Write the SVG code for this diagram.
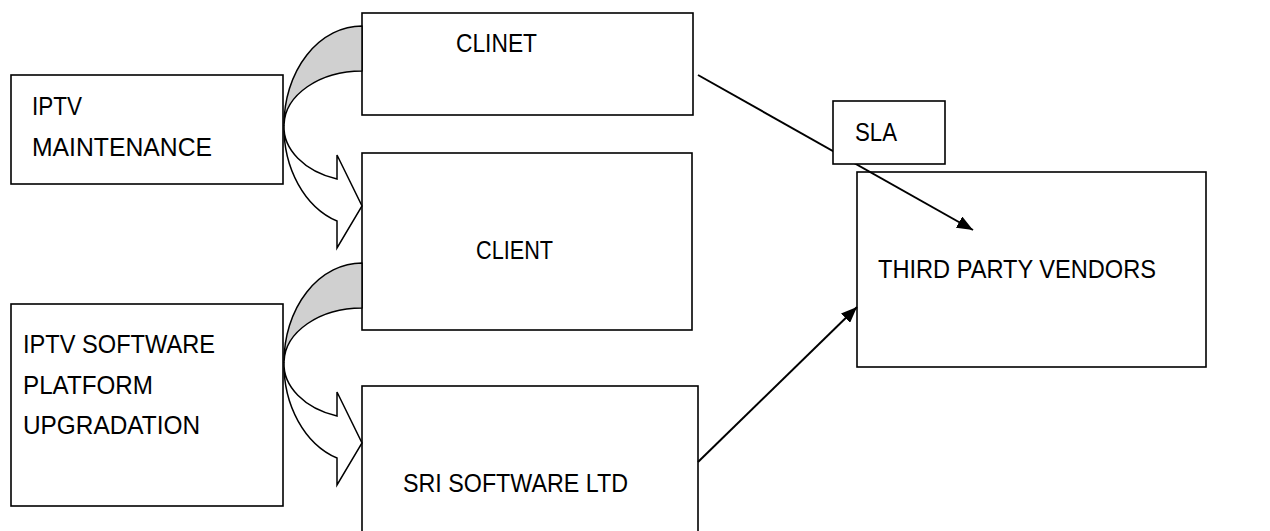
<svg xmlns="http://www.w3.org/2000/svg" width="1270" height="531" viewBox="0 0 1270 531">
<style>
.box{fill:#fff;stroke:#000;stroke-width:1.6}
.t{font-family:"Liberation Sans",Arial,sans-serif;font-size:25px;fill:#000}
.band{fill:#d0d0d0;stroke:#000;stroke-width:1.5;stroke-linejoin:round}
.head{fill:#fff;stroke:#000;stroke-width:1.5;stroke-linejoin:miter}
.conn{stroke:#000;stroke-width:2;fill:none}
</style>
<defs>
<marker id="ah" markerUnits="userSpaceOnUse" markerWidth="17" markerHeight="13" refX="16" refY="6.5" orient="auto">
<path d="M0,0 L16,6.5 L0,13 z" fill="#000"/>
</marker>
<g id="curved">
<path class="band" d="M362,26 A78,99 0 0 0 284,125 A78,55 0 0 1 362,71 Z"/>
<path class="head" d="M284,125 A78,99 0 0 0 337,221 L337,248 L362,206 L337,155 L337,179 A78,55 0 0 1 284,125 Z"/>
</g>
</defs>
<g id="node-iptv-maintenance">
<rect class="box" x="11" y="75" width="272" height="109"/>
<text class="t" x="32" y="115" textLength="50" lengthAdjust="spacingAndGlyphs">IPTV</text>
<text class="t" x="32" y="156" textLength="180" lengthAdjust="spacingAndGlyphs">MAINTENANCE</text>
</g>
<g id="node-iptv-software">
<rect class="box" x="11" y="304" width="272" height="202"/>
<text class="t" x="23" y="353" textLength="192" lengthAdjust="spacingAndGlyphs">IPTV SOFTWARE</text>
<text class="t" x="23" y="394" textLength="130" lengthAdjust="spacingAndGlyphs">PLATFORM</text>
<text class="t" x="23" y="434" textLength="177" lengthAdjust="spacingAndGlyphs">UPGRADATION</text>
</g>
<g id="node-clinet">
<rect class="box" x="362" y="13" width="331" height="102"/>
<text class="t" x="456" y="52" textLength="81" lengthAdjust="spacingAndGlyphs">CLINET</text>
</g>
<g id="node-client">
<rect class="box" x="362" y="153" width="330" height="177"/>
<text class="t" x="476" y="259" textLength="77" lengthAdjust="spacingAndGlyphs">CLIENT</text>
</g>
<g id="node-sri">
<rect class="box" x="362" y="386" width="336" height="160"/>
<text class="t" x="403" y="492" textLength="225" lengthAdjust="spacingAndGlyphs">SRI SOFTWARE LTD</text>
</g>
<g id="node-third-party">
<rect class="box" x="857" y="172" width="349" height="195"/>
<text class="t" x="878" y="278" textLength="278" lengthAdjust="spacingAndGlyphs">THIRD PARTY VENDORS</text>
</g>
<g id="connectors">
<use href="#curved"/>
<use href="#curved" transform="translate(0,237)"/>
<line class="conn" x1="698" y1="75" x2="973" y2="230" marker-end="url(#ah)"/>
<line class="conn" x1="698" y1="462" x2="857" y2="307" marker-end="url(#ah)"/>
</g>
<g id="node-sla">
<rect class="box" x="833" y="101" width="112" height="63"/>
<text class="t" x="855" y="141" textLength="42" lengthAdjust="spacingAndGlyphs">SLA</text>
</g>
</svg>
